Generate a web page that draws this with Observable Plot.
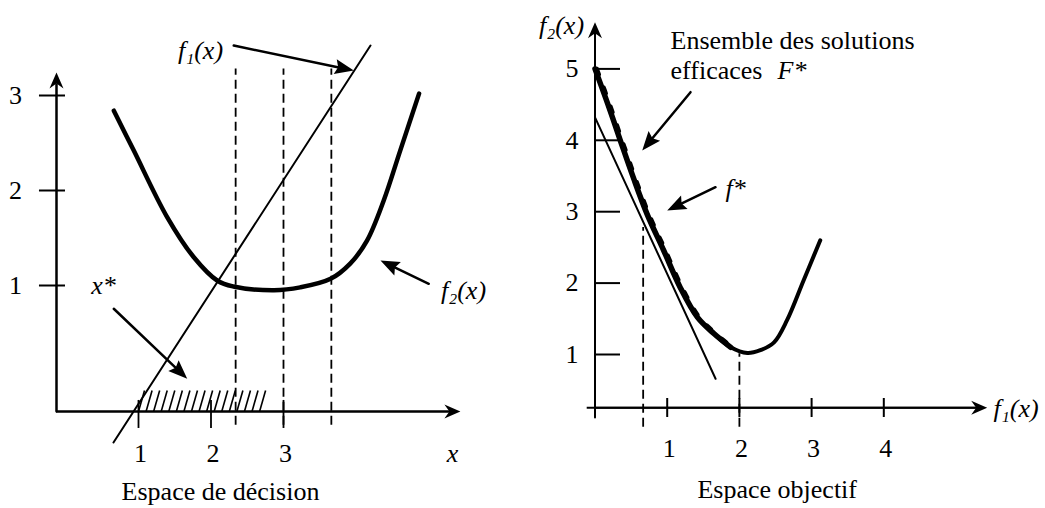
<!DOCTYPE html>
<html>
<head>
<meta charset="utf-8">
<script src="https://cdn.jsdelivr.net/npm/d3@7"></script>
<script src="https://cdn.jsdelivr.net/npm/@observablehq/plot@0.6"></script>
<style>
  html, body { margin: 0; padding: 0; background: #fff; }
  #wrap { display: flex; width: 1045px; height: 508px; background: #fff; }
  svg { background: #fff; }
  svg text { font-family: "Liberation Serif", "Times New Roman", "DejaVu Serif", serif !important; }
</style>
</head>
<body>
<div id="wrap"></div>
<script>
// ---------- DATA: left panel (Espace de décision) ----------
const leftTicksX = [1, 2, 3];
const leftTicksY = [1, 2, 3];
const f1X = [0.655, 4.2];
const f1Y = [-0.653, 3.526];
const f2X = [0.66, 0.935, 1.395, 1.76, 2.09, 2.31, 2.87, 3.23, 3.65, 3.92, 4.15, 4.38, 4.61, 4.87];
const f2Y = [2.84, 2.42, 1.72, 1.30, 1.05, 0.99, 0.95, 0.98, 1.07, 1.23, 1.47, 1.89, 2.42, 3.02];
const leftDashedX = [2.34, 3.0, 3.66];
const xStarRange = [1.0, 2.67];

// ---------- DATA: right panel (Espace objectif) ----------
const rightTicksX = [1, 2, 3, 4];
const rightTicksY = [1, 2, 3, 4, 5];
const frontX = [0, 0.18, 0.35, 0.53, 0.72, 0.95, 1.18, 1.42, 1.65, 1.88, 2.11, 2.29, 2.48, 2.66, 2.89, 3.12];
const frontY = [5.0, 4.5, 4.0, 3.48, 2.97, 2.46, 1.94, 1.52, 1.29, 1.10, 1.02, 1.06, 1.17, 1.48, 2.04, 2.60];
const efficientEnd = 1.88;
const tangentX = [0, 1.67];
const tangentY = [4.32, 0.66];
const rightDashedX = [0.667, 2.0];
const rightDashedTop = [2.78, 1.01];

// ---------- helpers ----------
const FONT = "'Liberation Serif', 'Times New Roman', serif";
const FS = 26;
const headSym = (L, w, n) => ({
  draw(ctx) { ctx.moveTo(0, 0); ctx.lineTo(w, L); ctx.lineTo(0, L - n); ctx.lineTo(-w, L); ctx.closePath(); }
});
const pointerHead = headSym(19, 7.5, 3);
const axisHead = headSym(16, 7, 5);

function arrowMarks(arrs, sx, sy, sym, inset, sw) {
  const rot = arrs.map(a => {
    const dx = sx.apply(a.x2) - sx.apply(a.x1), dy = sy.apply(a.y2) - sy.apply(a.y1);
    return Math.atan2(dx, -dy) * 180 / Math.PI;
  });
  return [
    Plot.arrow(arrs, {x1: "x1", y1: "y1", x2: "x2", y2: "y2", headLength: 0, insetEnd: inset, stroke: "black", strokeWidth: sw}),
    Plot.dot(arrs, {x: "x2", y: "y2", rotate: (d, i) => rot[i], symbol: sym, fill: "black", stroke: "none", r: 6})
  ];
}
const pts = (xs, ys) => xs.map((x, i) => ({x, y: ys[i]}));
const H = 508;

// ---------- LEFT ----------
{
  const W = 520;
  const xd = [-0.9034, 6.269], yd = [-1.3474, 4];
  const sx = Plot.scale({x: {domain: xd, range: [0, W]}});
  const sy = Plot.scale({y: {domain: yd, range: [H, 0]}});
  const axY = -0.326, axX = -0.131;
  const hatchN = 17;
  const hatch = d3.range(hatchN).map(i => {
    const b = xStarRange[0] + i * (xStarRange[1] - xStarRange[0]) / (hatchN - 1);
    return {x1: b, y1: axY, x2: b + 0.083, y2: -0.105};
  });
  const plot = Plot.plot({
    width: W, height: H, margin: 0,
    x: {domain: xd, range: [0, W]}, y: {domain: yd, range: [H, 0]},
    axis: null,
    style: {fontFamily: FONT, background: "#fff"},
    marks: [
      // axes
      Plot.ruleY([axY], {x1: axX, x2: 5.35, stroke: "black", strokeWidth: 2}),
      Plot.ruleX([axX], {y1: axY, y2: 3.12, stroke: "black", strokeWidth: 2}),
      ...arrowMarks([{x1: axX, y1: axY, x2: 5.44, y2: axY}, {x1: axX, y1: axY, x2: axX, y2: 3.242}], sx, sy, axisHead, 12, 2),
      // ticks
      Plot.ruleY(leftTicksY, {x1: -0.366, x2: -0.007, stroke: "black", strokeWidth: 2}),
      Plot.ruleX(leftTicksX, {y1: -0.21, y2: -0.505, stroke: "black", strokeWidth: 1.8}),
      Plot.text(leftTicksY, {x: axX, y: d => d, dx: -41, text: d => String(d), fontSize: FS, fontFamily: FONT}),
      Plot.text(leftTicksX, {x: d => d, y: -0.768, dx: 2, text: d => String(d), fontSize: FS, fontFamily: FONT}),
      Plot.text(["x"], {x: 5.33, y: -0.768, text: d => d, fontSize: FS, fontFamily: FONT, fontStyle: "italic"}),
      // dashed verticals
      Plot.ruleX(leftDashedX, {y1: -0.47, y2: 3.28, stroke: "black", strokeWidth: 1.8, strokeDasharray: "9,5"}),
      // hatch x*
      Plot.link(hatch, {x1: "x1", y1: "y1", x2: "x2", y2: "y2", stroke: "black", strokeWidth: 1.6}),
      // f1 line
      Plot.line(pts(f1X, f1Y), {x: "x", y: "y", stroke: "black", strokeWidth: 2}),
      // f2 curve
      Plot.line(pts(f2X, f2Y), {x: "x", y: "y", stroke: "black", strokeWidth: 4.5, curve: "catmull-rom"}),
      // annotation arrows
      ...arrowMarks([
        {x1: 2.314, y1: 3.526, x2: 3.97, y2: 3.263},
        {x1: 5.004, y1: 1.018, x2: 4.338, y2: 1.263},
        {x1: 0.659, y1: 0.755, x2: 1.672, y2: 0.018}
      ], sx, sy, pointerHead, 14, 2.5),
      Plot.text(["f₁(x)"], {x: 1.855, y: 3.474, text: d => d, fontSize: FS, fontFamily: FONT, fontStyle: "italic"}),
      Plot.text(["f₂(x)"], {x: 5.483, y: 0.947, text: d => d, fontSize: FS, fontFamily: FONT, fontStyle: "italic"}),
      Plot.text(["x*"], {x: 0.517, y: 1.0, text: d => d, fontSize: FS, fontFamily: FONT, fontStyle: "italic"}),
      Plot.text(["Espace de décision"], {x: 2.131, y: -1.17, text: d => d, fontSize: FS, fontFamily: FONT})
    ]
  });
  document.getElementById("wrap").append(plot);
}

// ---------- RIGHT ----------
{
  const W = 525;
  const xd = [-1.0319, 6.2396], yd = [-1.1569, 5.958];
  const sx = Plot.scale({x: {domain: xd, range: [0, W]}});
  const sy = Plot.scale({y: {domain: yd, range: [H, 0]}});
  const axY = 0.2535;
  const front = pts(frontX, frontY);
  const efficient = front.filter(d => d.x <= efficientEnd);
  const plot = Plot.plot({
    width: W, height: H, margin: 0,
    x: {domain: xd, range: [0, W]}, y: {domain: yd, range: [H, 0]},
    axis: null,
    style: {fontFamily: FONT, background: "#fff"},
    marks: [
      // axes
      Plot.ruleY([axY], {x1: -0.108, x2: 5.35, stroke: "black", strokeWidth: 2}),
      Plot.ruleX([0], {y1: 0.118, y2: 5.5, stroke: "black", strokeWidth: 2}),
      ...arrowMarks([{x1: 0, y1: axY, x2: 5.432, y2: axY}, {x1: 0, y1: 0.118, x2: 0, y2: 5.654}], sx, sy, axisHead, 12, 2),
      // ticks
      Plot.ruleY(rightTicksY, {x1: 0, x2: 0.353, stroke: "black", strokeWidth: 2}),
      Plot.ruleX(rightTicksX, {y1: 0.384, y2: 0.118, stroke: "black", strokeWidth: 2}),
      Plot.text(rightTicksY, {x: 0, y: d => d, dx: -23, text: d => String(d), fontSize: FS, fontFamily: FONT}),
      Plot.text(rightTicksX, {x: d => d, y: -0.317, dx: 2, text: d => String(d), fontSize: FS, fontFamily: FONT}),
      Plot.text(["f₁(x)"], {x: 5.52, y: 0.244, text: d => d, textAnchor: "start", fontSize: FS, fontFamily: FONT, fontStyle: "italic"}),
      Plot.text(["f₂(x)"], {x: -0.464, y: 5.608, text: d => d, fontSize: FS, fontFamily: FONT, fontStyle: "italic"}),
      // dashed verticals
      Plot.ruleX(rightDashedX.map((x, i) => ({x, top: rightDashedTop[i]})), {x: "x", y1: -0.018, y2: "top", stroke: "black", strokeWidth: 1.8, strokeDasharray: "9,5"}),
      // tangent line
      Plot.line(pts(tangentX, tangentY), {x: "x", y: "y", stroke: "black", strokeWidth: 2}),
      // objective curve
      Plot.line(front, {x: "x", y: "y", stroke: "black", strokeWidth: 4, curve: "catmull-rom"}),
      Plot.line(efficient, {x: "x", y: "y", stroke: "black", strokeWidth: 5.5, curve: "catmull-rom"}),
      Plot.line(efficient, {x: "x", y: "y", dx: 2, stroke: "black", strokeWidth: 4, strokeDasharray: "6,14", curve: "catmull-rom"}),
      // annotation arrows
      ...arrowMarks([
        {x1: 1.323, y1: 4.674, x2: 0.654, y2: 3.857},
        {x1: 1.669, y1: 3.343, x2: 1.0, y2: 3.017}
      ], sx, sy, pointerHead, 14, 2.5),
      Plot.text(["Ensemble des solutions"], {x: 1.046, y: 5.398, text: d => d, textAnchor: "start", fontSize: FS, fontFamily: FONT}),
      Plot.text(["efficaces"], {x: 1.046, y: 4.978, text: d => d, textAnchor: "start", fontSize: FS, fontFamily: FONT}),
      Plot.text(["F*"], {x: 2.528, y: 4.978, text: d => d, textAnchor: "start", fontSize: FS, fontFamily: FONT, fontStyle: "italic"}),
      Plot.text(["f*"], {x: 1.807, y: 3.325, text: d => d, textAnchor: "start", fontSize: FS, fontFamily: FONT, fontStyle: "italic"}),
      Plot.text(["Espace objectif"], {x: 2.524, y: -0.89, text: d => d, fontSize: FS, fontFamily: FONT})
    ]
  });
  document.getElementById("wrap").append(plot);
}
</script>
</body>
</html>
